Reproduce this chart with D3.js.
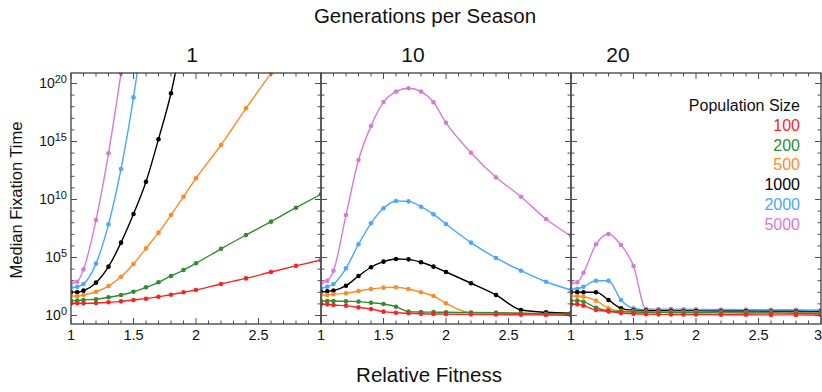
<!DOCTYPE html>
<html>
<head>
<meta charset="utf-8">
<script src="https://cdn.jsdelivr.net/npm/d3@7"></script>
<style>
  body { margin: 0; background: #fff; }
  svg { display: block; font-family: "Liberation Sans", Arial, Helvetica, sans-serif; }
</style>
</head>
<body>
<svg id="chart" width="822" height="392"></svg>
<script>
// Relative fitness values at which the fixation time was measured
const fitness = [1, 1.05, 1.1, 1.2, 1.3, 1.4, 1.5, 1.6, 1.7, 1.8, 1.9, 2.0, 2.2, 2.4, 2.6, 2.8, 3.0];
const populationSizes = [100, 200, 500, 1000, 2000, 5000];
const generationsPerSeason = [1, 10, 20];
const xTickLabels = ["1", "1.5", "2", "2.5", "3"];
const yTickExponents = [0, 5, 10, 15, 20];

// Median fixation time, stored as log10 exponents (null = off the chart)
// 1 generation per season
const g1_N100  = [1.05, 1.05, 1.05, 1.08, 1.14, 1.22, 1.34, 1.45, 1.62, 1.79, 2.0, 2.2, 2.72, 3.2, 3.75, 4.28, 4.78];
const g1_N200  = [1.28, 1.28, 1.34, 1.40, 1.57, 1.77, 2.05, 2.43, 2.86, 3.41, 3.92, 4.5, 5.75, 6.94, 8.09, 9.29, 10.45];
const g1_N500  = [1.68, 1.68, 1.77, 2.05, 2.54, 3.34, 4.44, 5.79, 7.14, 8.66, 10.24, 11.83, 14.7, 17.86, 20.88, null, null];
const g1_N1000 = [2.0, 2.0, 2.14, 2.83, 4.21, 6.28, 8.75, 11.53, 15.2, 19.16, 24.5, null, null, null, null, null, null];
const g1_N2000 = [2.40, 2.48, 2.72, 4.47, 7.86, 12.63, 18.8, 26.5, null, null, null, null, null, null, null, null, null];
const g1_N5000 = [2.78, 2.91, 3.98, 8.23, 13.98, 20.88, null, null, null, null, null, null, null, null, null, null, null];
// 10 generations per season
const g10_N100  = [0.96, 0.96, 0.9, 0.85, 0.7, 0.56, 0.33, 0.24, 0.19, 0.15, 0.13, 0.12, 0.1, 0.08, 0.06, 0.04, 0.02];
const g10_N200  = [1.25, 1.25, 1.25, 1.22, 1.2, 1.1, 0.99, 0.76, 0.33, 0.3, 0.29, 0.28, 0.26, 0.24, 0.19, 0.15, 0.12];
const g10_N500  = [1.77, 1.77, 1.83, 1.91, 2.11, 2.28, 2.4, 2.43, 2.28, 2.0, 1.68, 1.05, 0.24, 0.24, 0.19, 0.13, 0.04];
const g10_N1000 = [2.05, 2.08, 2.14, 2.57, 3.4, 4.16, 4.64, 4.87, 4.84, 4.59, 4.21, 3.75, 2.78, 1.77, 0.47, 0.28, 0.19];
const g10_N2000 = [2.34, 2.48, 2.72, 4.07, 6.14, 7.95, 9.24, 9.87, 9.84, 9.38, 8.72, 7.89, 6.28, 4.96, 3.86, 2.91, 2.2];
const g10_N5000 = [2.78, 3.0, 3.86, 8.66, 13.4, 16.34, 18.4, 19.3, 19.59, 19.3, 18.38, 16.62, 14.03, 11.91, 10.24, 8.32, 6.85];
// 20 generations per season
const g20_N100  = [0.96, 0.96, 0.85, 0.47, 0.35, 0.22, 0.15, 0.12, 0.1, 0.09, 0.08, 0.08, 0.07, 0.06, 0.05, 0.05, 0.04];
const g20_N200  = [1.28, 1.28, 1.19, 0.67, 0.41, 0.33, 0.3, 0.28, 0.27, 0.26, 0.25, 0.24, 0.23, 0.22, 0.21, 0.2, 0.19];
const g20_N500  = [1.68, 1.68, 1.62, 1.28, 0.62, 0.41, 0.36, 0.34, 0.33, 0.32, 0.31, 0.3, 0.29, 0.28, 0.27, 0.26, 0.25];
const g20_N1000 = [2.0, 2.0, 2.0, 2.0, 1.34, 0.62, 0.45, 0.42, 0.41, 0.4, 0.39, 0.38, 0.37, 0.36, 0.35, 0.34, 0.33];
const g20_N2000 = [2.26, 2.3, 2.48, 3.0, 3.0, 1.34, 0.62, 0.5, 0.48, 0.47, 0.46, 0.45, 0.44, 0.43, 0.42, 0.41, 0.4];
const g20_N5000 = [2.78, 2.86, 3.69, 6.14, 7.03, 6.08, 4.27, 0.56, 0.55, 0.55, 0.54, 0.53, 0.52, 0.51, 0.5, 0.49, 0.48];

const seriesColors = ["#f72424", "#2f8c2f", "#ff8a24", "#000000", "#4aa6ff", "#d67ad8"];

const panelSeries = [
  [g1_N100, g1_N200, g1_N500, g1_N1000, g1_N2000, g1_N5000],
  [g10_N100, g10_N200, g10_N500, g10_N1000, g10_N2000, g10_N5000],
  [g20_N100, g20_N200, g20_N500, g20_N1000, g20_N2000, g20_N5000]
];

// Layout
const panelLeft = [71, 321, 571];
const panelWidth = 250;
const plotTop = 73, plotBottom = 324;
const titleX = [192, 413, 618];
const frameColor = "#4d4d4d";
const svgWidth = 822;

const svg = d3.select("#chart");

const y = d3.scaleLog()
  .domain([Math.pow(10, -0.733), Math.pow(10, 20.905)])
  .range([plotBottom, plotTop]);

// Top and axis titles
svg.append("text")
  .attr("x", 425).attr("y", 23)
  .attr("text-anchor", "middle")
  .attr("font-size", 20.5).attr("fill", "#111")
  .text("Generations per Season");

svg.append("text")
  .attr("x", 429).attr("y", 382)
  .attr("text-anchor", "middle")
  .attr("font-size", 20.5).attr("fill", "#111")
  .text("Relative Fitness");

svg.append("text")
  .attr("transform", "translate(22,200) rotate(-90)")
  .attr("text-anchor", "middle")
  .attr("font-size", 16.5).attr("fill", "#111")
  .text("Median Fixation Time");

// Y tick labels (left panel only)
yTickExponents.forEach(e => {
  const t = svg.append("text")
    .attr("x", 67).attr("y", y(Math.pow(10, e)) + 5)
    .attr("text-anchor", "end")
    .attr("fill", "#111");
  t.append("tspan").attr("font-size", 14).text("10");
  t.append("tspan").attr("font-size", 11).attr("dy", -5).text(String(e));
});

const defs = svg.append("defs");

generationsPerSeason.forEach((g, pi) => {
  const x0 = panelLeft[pi];
  const x = d3.scaleLinear().domain([1, 3]).range([x0, x0 + panelWidth]);
  const panel = svg.append("g");

  // Panel title
  svg.append("text")
    .attr("x", titleX[pi]).attr("y", 62)
    .attr("text-anchor", "middle")
    .attr("font-size", 21).attr("fill", "#111")
    .text(String(g));

  // X tick labels; the last panel also labels its right edge, kept inside the canvas
  const labels = pi === 2 ? xTickLabels : xTickLabels.slice(0, 4);
  labels.forEach(l => {
    const px = x(+l);
    const atEdge = px + 5 > svgWidth;
    svg.append("text")
      .attr("x", atEdge ? svgWidth : px).attr("y", 340)
      .attr("text-anchor", atEdge ? "end" : "middle")
      .attr("font-size", 14.5).attr("fill", "#111")
      .text(l);
  });

  // Clip region for the data
  const clipId = "clip" + pi;
  defs.append("clipPath").attr("id", clipId)
    .append("rect")
    .attr("x", x0).attr("y", plotTop - 0.5)
    .attr("width", panelWidth).attr("height", plotBottom - plotTop + 1);

  const data = panel.append("g").attr("clip-path", `url(#${clipId})`);

  const line = d3.line()
    .defined(d => d[1] !== null)
    .x(d => x(d[0]))
    .y(d => y(Math.pow(10, d[1])))
    .curve(d3.curveMonotoneX);

  // Draw larger populations first so small ones sit on top
  for (let si = populationSizes.length - 1; si >= 0; si--) {
    const vals = panelSeries[pi][si];
    const pts = fitness.map((f, i) => [f, vals[i]]);
    data.append("path")
      .datum(pts)
      .attr("fill", "none")
      .attr("stroke", seriesColors[si])
      .attr("stroke-width", 1.4)
      .attr("d", line);
    data.selectAll(null)
      .data(pts.filter(d => d[1] !== null))
      .join("circle")
      .attr("cx", d => x(d[0]))
      .attr("cy", d => y(Math.pow(10, d[1])))
      .attr("r", 2.3)
      .attr("fill", seriesColors[si]);
  }

  // Ticks (inward on all sides)
  const ticks = panel.append("g").attr("stroke", frameColor).attr("stroke-width", 1);
  d3.range(0, 21).forEach(i => {
    const f = 1 + i * 0.1;
    const major = i % 5 === 0;
    const len = major ? 6 : 3.5;
    const px = x(f);
    ticks.append("line").attr("x1", px).attr("x2", px).attr("y1", plotBottom).attr("y2", plotBottom - len);
    ticks.append("line").attr("x1", px).attr("x2", px).attr("y1", plotTop).attr("y2", plotTop + len);
  });
  d3.range(0, 21).forEach(e => {
    const major = e % 5 === 0;
    const len = major ? 6 : 3.5;
    const py = y(Math.pow(10, e));
    ticks.append("line").attr("x1", x0).attr("x2", x0 + len).attr("y1", py).attr("y2", py);
    ticks.append("line").attr("x1", x0 + panelWidth).attr("x2", x0 + panelWidth - len).attr("y1", py).attr("y2", py);
  });

  // Frame
  panel.append("rect")
    .attr("x", x0).attr("y", plotTop)
    .attr("width", panelWidth).attr("height", plotBottom - plotTop)
    .attr("fill", "none")
    .attr("stroke", frameColor)
    .attr("stroke-width", 1.4);
});

// Legend
const legend = svg.append("g").attr("text-anchor", "end");
legend.append("text")
  .attr("x", 800).attr("y", 111)
  .attr("font-size", 16).attr("fill", "#111")
  .text("Population Size");
populationSizes.forEach((n, i) => {
  legend.append("text")
    .attr("x", 800).attr("y", 131 + i * 19.7)
    .attr("font-size", 16).attr("fill", seriesColors[i])
    .text(String(n));
});
</script>
</body>
</html>
